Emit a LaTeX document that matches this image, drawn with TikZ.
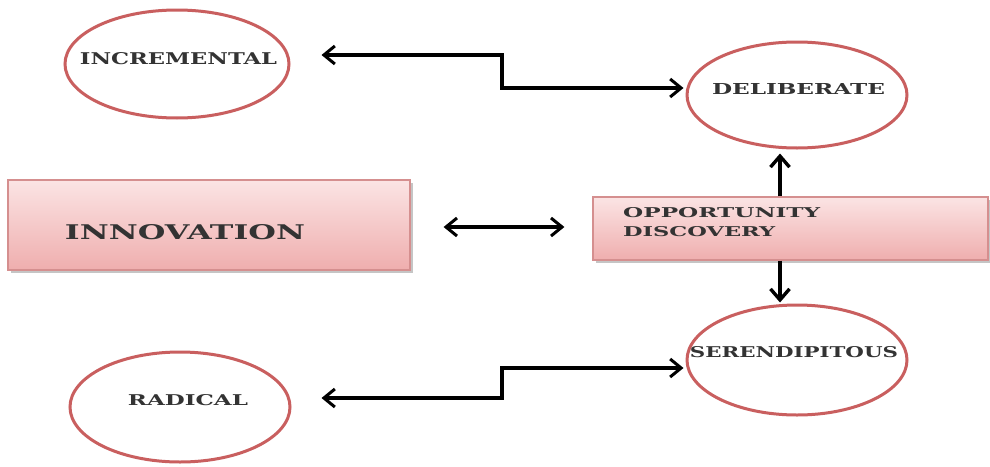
\documentclass[tikz,border=0pt]{standalone}
\usepackage{fontspec}
\setmainfont{DejaVu Serif}
\usetikzlibrary{shapes.geometric,arrows.meta,calc,shadows}

\definecolor{ringred}{HTML}{C95F5F}
\definecolor{boxtop}{HTML}{FBE4E4}
\definecolor{boxbot}{HTML}{EFAEAE}
\definecolor{boxedge}{HTML}{D58F8F}
\definecolor{inktext}{HTML}{333333}

% set capitals to an exact width and cap height
\newcommand{\fitcaps}[3]{\resizebox{#1pt}{#2pt}{\bfseries #3}}

\tikzset{
  ring/.style={ellipse, draw=ringred, line width=3pt, fill=white, inner sep=0pt},
  pinkbox/.style={rectangle, draw=boxedge, line width=1.2pt, top color=boxtop, bottom color=boxbot,
    drop shadow={shadow xshift=2.5pt, shadow yshift=-2.5pt, opacity=0.45}, inner sep=0pt},
  caption/.style={inner sep=0pt, text=inktext},
  conn/.style={draw=black, line width=3.6pt, {Straight Barb[length=11pt,width=18pt,line width=3pt]}-{Straight Barb[length=11pt,width=18pt,line width=3pt]}},
  vconn/.style={draw=black, line width=4.6pt, -{Straight Barb[length=11pt,width=19pt,line width=3.4pt]}},
}

\begin{document}
\begin{tikzpicture}[x=1pt,y=-1pt]
  \useasboundingbox[fill=white] (0,0) rectangle (990,466);

  % boxes
  \node[pinkbox, minimum width=402pt, minimum height=90pt] (innov) at (209,225) {};
  \node[pinkbox, minimum width=395pt, minimum height=63pt] (opp) at (790.5,228.5) {};

  % circles
  \node[ring, minimum width=224pt, minimum height=108pt] (inc) at (177,64) {};
  \node[ring, minimum width=220pt, minimum height=106pt] (del) at (797,95) {};
  \node[ring, minimum width=220pt, minimum height=110pt] (ser) at (797,360) {};
  \node[ring, minimum width=220pt, minimum height=110pt] (rad) at (180,407) {};

  % captions
  \node[caption] (incT) at (178.5,59) {\fitcaps{197}{12}{INCREMENTAL}};
  \node[caption] (delT) at (798.5,88.5) {\fitcaps{173}{11}{DELIBERATE}};
  \node[caption] (serT) at (794,352) {\fitcaps{208}{11}{SERENDIPITOUS}};
  \node[caption] (radT) at (188,400) {\fitcaps{120}{11}{RADICAL}};
  \node[caption] (innT) at (185,232) {\fitcaps{240}{15}{INNOVATION}};
  \node[caption, anchor=west] (oppT1) at (623,213) {\fitcaps{197}{10}{OPPORTUNITY}};
  \node[caption, anchor=west] (oppT2) at (623,232) {\fitcaps{152}{10}{DISCOVERY}};

  % connectors
  \coordinate (incEnd) at ($(inc.east)+(31,-9)$);
  \coordinate (radEnd) at ($(rad.east)+(30,-9)$);
  \coordinate (innEnd) at ($(innov.east)+(33,2)$);
  \coordinate (oppEnd) at ($(opp.west)+(-28,-1.5)$);

  \draw[conn] (incEnd) -- (502,55) |- ($(del.west)+(-2,-7)$);
  \draw[conn] (radEnd) -- (502,398) |- ($(ser.west)+(-2,8)$);
  \draw[conn] (innEnd) -- (oppEnd);
  \draw[vconn] ($(opp.north)+(-10.5,0)$) -- ($(del.south)+(-17,4)$);
  \draw[vconn] ($(opp.south)+(-10.5,0)$) -- ($(ser.north)+(-17,-1)$);
\end{tikzpicture}
\end{document}
